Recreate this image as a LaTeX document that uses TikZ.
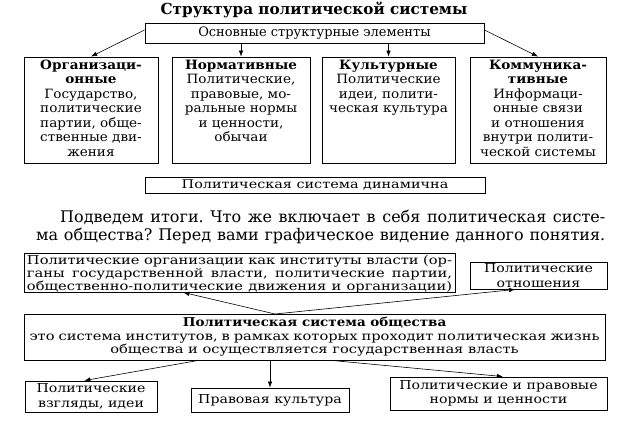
\documentclass[tikz,border=0pt]{standalone}
\usepackage{fontspec}
\setmainfont{DejaVu Serif}
\newfontfamily\wideA[FakeStretch=1.2]{DejaVu Serif}
\newfontfamily\wideB[FakeStretch=1.15]{DejaVu Serif}
\newfontfamily\wideC[FakeStretch=1.06]{DejaVu Serif}
\usetikzlibrary{arrows.meta,calc}
\frenchspacing
\newcommand\fsTitle{\fontsize{15.2}{16}\selectfont\bfseries}
\newcommand\fsBox{\wideC\fontsize{12.8}{14.5}\selectfont}
\newcommand\fsMain{\fontsize{13}{15}\selectfont}
\newcommand\fsDyn{\wideA\fontsize{12}{13}\selectfont}
\newcommand\fsPar{\fontsize{16}{19}\selectfont}
\newcommand\fsOrg{\wideA\fontsize{12.2}{13}\selectfont}
\newcommand\fsLow{\wideB\fontsize{12.3}{14.5}\selectfont}
\begin{document}
\begin{tikzpicture}[x=1pt,y=-1pt,
  bx/.style={draw, line width=0.9pt, inner sep=0pt},
  arr/.style={-{Latex[length=6pt,width=4.5pt]}, line width=0.6pt},
  t/.style={inner sep=0pt, align=center},
]
\useasboundingbox[fill=white] (0,0) rectangle (623,421);

% title
\node[t, font=\fsTitle] (title) at (314,10) {Структура политической системы};

% main elements box
\node[bx, minimum width=339pt, minimum height=20pt] (main) at (314.5,33) {};
\node[t, font=\fsMain] (maint) at (main.center) {Основные структурные элементы};

% four boxes
\node[bx, minimum width=134pt, minimum height=106pt] (b1) at (91,110) {};
\node[bx, minimum width=138pt, minimum height=106pt] (b2) at (241,110) {};
\node[bx, minimum width=133pt, minimum height=106pt] (b3) at (388.5,110) {};
\node[bx, minimum width=136pt, minimum height=106pt] (b4) at (538,110) {};

\node[t, font=\fsBox, anchor=north] (b1t) at ($(b1.north)+(0,3)$)
  {\textbf{Организаци-}\\\textbf{онные}\\Государство,\\политические\\партии, обще-\\ственные дви-\\жения};
\node[t, font=\fsBox, anchor=north] (b2t) at ($(b2.north)+(0,3)$)
  {\textbf{Нормативные}\\Политические,\\правовые, мо-\\ральные нормы\\и ценности,\\обычаи};
\node[t, font=\fsBox, anchor=north] (b3t) at ($(b3.north)+(0,3)$)
  {\textbf{Культурные}\\Политические\\идеи, полити-\\ческая культура};
\node[t, font=\fsBox, anchor=north] (b4t) at ($(b4.north)+(0,3)$)
  {\textbf{Коммуника-}\\\textbf{тивные}\\Информаци-\\онные связи\\и отношения\\внутри полити-\\ческой системы};

\draw[arr] ($(main.west)+(0,-3)$) -- (b1.north);
\draw[arr] (b2.north |- main.south) -- (b2.north);
\draw[arr] (b3.north |- main.south) -- (b3.north);
\draw[arr] ($(main.east)+(0,-3)$) -- (b4.north);

% dynamic box
\node[bx, minimum width=340pt, minimum height=16pt] (dyn) at (315,185) {};
\node[t, font=\fsDyn] (dynt) at (dyn.center) {Политическая система динамична};

% paragraph
\node[inner sep=0pt, anchor=west, font=\fsPar] (p1) at (60,217)
  {\makebox[545pt][s]{Подведем итоги. Что же включает в себя политическая систе-}};
\node[inner sep=0pt, anchor=west, font=\fsPar] (p2) at (36,236)
  {\makebox[569pt][s]{ма общества? Перед вами графическое видение данного понятия.}};

% organisations box
\node[bx, minimum width=431pt, minimum height=39pt] (org) at (239.5,272.5) {};
\node[t, font=\fsOrg, anchor=north] (orgt) at ($(org.north)+(0,2.5)$)
  {\makebox[425pt][s]{Политические организации как институты власти (ор-}\\
   \makebox[425pt][s]{ганы государственной власти, политические партии,}\\
   \makebox[425pt][s]{общественно-политические движения и организации)}};

% relations box
\node[bx, minimum width=137pt, minimum height=27pt] (rel) at (538.5,275.5) {};
\node[t, font=\fsLow, align=center] (relt) at (rel.center) {\fontsize{12.3}{13}\selectfont Политические\\отношения};

% big box
\node[bx, minimum width=581pt, minimum height=46pt] (big) at (314.5,337) {};
\node[t, font=\fsOrg, anchor=north] (bigt) at ($(big.north)+(0,3.5)$)
  {\scalebox{0.92}[1]{\textbf{Политическая система общества}}\\[0.5pt]
   \makebox[570pt][s]{это система институтов, в рамках которых проходит политическая жизнь}\\[0.5pt]
   общества и осуществляется государственная власть};

\coordinate (conv) at (275,314);
\draw[arr] (conv) -- ($(org.south west)!0.37!(org.south east)$);
\draw[arr] (conv) -- ($(rel.south west)!0.33!(rel.south east)$);

% bottom boxes
\node[bx, minimum width=132pt, minimum height=31pt] (lb) at (91,396.5) {};
\node[t, font=\fsLow] (lbt) at (lb.center) {Политические\\взгляды, идеи};
\node[bx, minimum width=158pt, minimum height=24pt] (mb) at (270,400) {};
\node[t, font=\fsLow] (mbt) at (mb.center) {Правовая культура};
\node[bx, minimum width=217pt, minimum height=33pt] (rb) at (498.5,393.5) {};
\node[t, font=\fsLow] (rbt) at (rb.center) {Политические и правовые\\нормы и ценности};

\draw[arr] ($(big.south west)!0.3!(big.south east)$) -- ($(lb.north west)!0.45!(lb.north east)$);
\draw[arr] (big.south -| mb.north) -- (mb.north);
\draw[arr] ($(big.south west)!0.53!(big.south east)$) -- ($(rb.north west)!0.52!(rb.north east)$);
\end{tikzpicture}
\end{document}
